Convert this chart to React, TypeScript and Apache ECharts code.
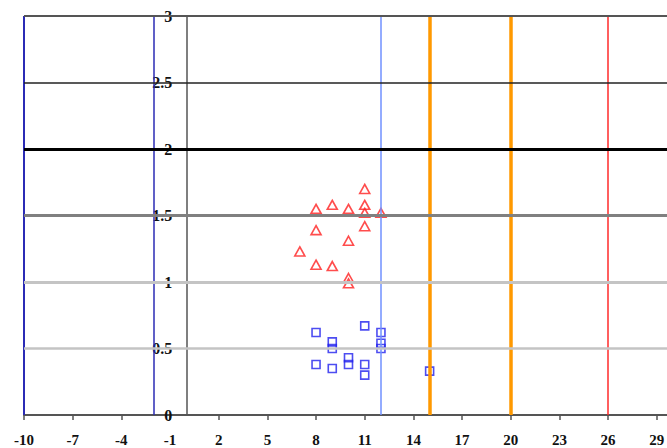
import React, { useEffect, useRef } from "react";
import * as echarts from "echarts";

// Red triangles series
const triX = [11, 8, 9, 10, 11, 11, 12, 8, 11, 10, 7, 8, 9, 10, 10];
const triY = [1.7, 1.55, 1.58, 1.55, 1.58, 1.52, 1.52, 1.39, 1.42, 1.31, 1.23, 1.13, 1.12, 1.03, 0.99];

// Blue squares series
const sqX = [8, 9, 9, 8, 9, 10, 10, 11, 11, 11, 12, 12, 12, 15];
const sqY = [0.62, 0.55, 0.5, 0.38, 0.35, 0.43, 0.38, 0.67, 0.38, 0.3, 0.62, 0.54, 0.5, 0.33];

// Reference lines
const vLines = [-10, -2, 12, 15, 20, 26];
const hLines = [0.5, 1, 1.5, 2, 2.5, 3];

const vStyles = [
  { color: "#2b2bb5", width: 2 },
  { color: "#2b2bb5", width: 1.5 },
  { color: "#7090ff", width: 1.5 },
  { color: "#ff9900", width: 3.5 },
  { color: "#ff9900", width: 3.5 },
  { color: "#ff2a2a", width: 1.5 },
];
const hStyles = [
  { color: "#c4c4c4", width: 2.5 },
  { color: "#c4c4c4", width: 3 },
  { color: "#808080", width: 3 },
  { color: "#000000", width: 3 },
  { color: "#222222", width: 1.5 },
  { color: "#555555", width: 2 },
];

const FONT = "'Liberation Serif', 'Times New Roman', serif";
const GRID_LEFT = 24;
const GRID_WIDTH = 649;
const X_MIN = -10;
const X_MAX = 30;

export default function App() {
  const ref = useRef<HTMLDivElement>(null);
  useEffect(() => {
    if (!ref.current) return;
    const chart = echarts.init(ref.current, undefined, { renderer: "svg" });
    // place the y axis at x = 0 of the value axis
    const zeroOffset = (GRID_WIDTH * (0 - X_MIN)) / (X_MAX - X_MIN);
    chart.setOption({
      animation: false,
      backgroundColor: "#ffffff",
      grid: {
        left: GRID_LEFT,
        top: 16,
        width: GRID_WIDTH,
        height: 399,
        containLabel: false,
        outerBoundsMode: "none",
      },
      xAxis: {
        type: "value",
        min: X_MIN,
        max: X_MAX,
        interval: 3,
        splitLine: { show: false },
        axisLine: { show: true, onZero: false, lineStyle: { color: "#555555", width: 2 } },
        axisTick: { show: true, length: 5, lineStyle: { color: "#555555", width: 1.5 } },
        axisLabel: {
          showMaxLabel: false,
          margin: 17,
          fontFamily: FONT,
          fontWeight: "bold",
          fontSize: 15,
          color: "#111",
        },
      },
      yAxis: {
        type: "value",
        min: 0,
        max: 3,
        interval: 0.5,
        offset: -zeroOffset,
        splitLine: { show: false },
        axisLine: { show: true, onZero: false, lineStyle: { color: "#555555", width: 1.5 } },
        axisTick: { show: false },
        axisLabel: {
          margin: 14,
          fontFamily: FONT,
          fontWeight: "bold",
          fontSize: 16,
          color: "#111",
        },
      },
      series: [
        {
          type: "line",
          data: [],
          z: 1,
          silent: true,
          markLine: {
            silent: true,
            symbol: "none",
            label: { show: false },
            animation: false,
            data: vLines.map((v, i) => ({
              xAxis: v,
              lineStyle: { type: "solid", color: vStyles[i].color, width: vStyles[i].width },
            })),
          },
        },
        {
          type: "line",
          data: [],
          z: 2,
          silent: true,
          markLine: {
            silent: true,
            symbol: "none",
            label: { show: false },
            animation: false,
            data: hLines.map((v, i) => ({
              yAxis: v,
              lineStyle: { type: "solid", color: hStyles[i].color, width: hStyles[i].width },
            })),
          },
        },
        {
          type: "scatter",
          z: 3,
          symbol: "triangle",
          symbolSize: [10, 9],
          itemStyle: { color: "rgba(255,255,255,0)", borderColor: "#ff2020", borderWidth: 1.6 },
          data: triX.map((x, i) => [x, triY[i]]),
        },
        {
          type: "scatter",
          z: 3,
          symbol: "rect",
          symbolSize: 8,
          itemStyle: { color: "rgba(255,255,255,0)", borderColor: "#2020ee", borderWidth: 1.6 },
          data: sqX.map((x, i) => [x, sqY[i]]),
        },
      ],
    });
    return () => chart.dispose();
  }, []);
  return (
    <div
      ref={ref}
      style={{ position: "absolute", left: 0, top: 0, width: 667, height: 448, overflow: "hidden" }}
    />
  );
}
